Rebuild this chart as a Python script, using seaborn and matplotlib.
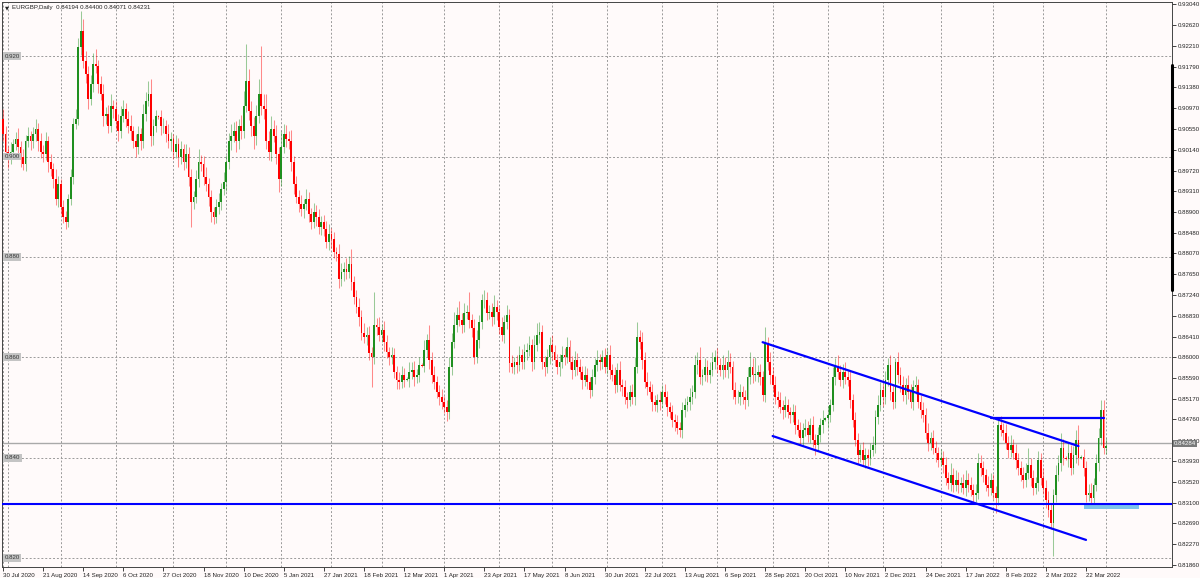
import numpy as np
import pandas as pd
import matplotlib
matplotlib.use('Agg')
import matplotlib.pyplot as plt
import matplotlib.transforms as mtransforms
import seaborn as sns

# EURGBP daily closes, in pips (0.0001)
closes_pips = [
    9045, 9010, 8995, 9010, 9025, 9035, 9020, 9000, 8985, 9030, 9040, 9030, 9045, 9055, 9030, 9010,
    9005, 9030, 8990, 8975, 8955, 8915, 8945, 8900, 8880, 8870, 8915, 8960, 9065, 9075, 9218, 9250,
    9190, 9165, 9115, 9145, 9185, 9180, 9145, 9125, 9080, 9085, 9060, 9100, 9095, 9070, 9050, 9080,
    9095, 9075, 9060, 9050, 9030, 9020, 9045, 9030, 9085, 9110, 9125, 9040, 9060, 9080, 9078, 9060,
    9060, 9045, 9030, 9035, 9010, 9025, 9000, 9015, 8990, 9005, 8960, 8910, 8920, 8955, 8990, 8985,
    8960, 8945, 8920, 8890, 8880, 8900, 8910, 8935, 8950, 8990, 9030, 9040, 9050, 9030, 9060, 9050,
    9100, 9150, 9090, 9060, 9040, 9080, 9125, 9100, 9095, 9030, 9010, 9055, 9040, 9005, 8955, 9020,
    9045, 9035, 9030, 8990, 8945, 8920, 8905, 8895, 8905, 8915, 8885, 8870, 8890, 8880, 8860, 8870,
    8855, 8830, 8845, 8835, 8810, 8805, 8755, 8770, 8775, 8770, 8785, 8750, 8720, 8700, 8680, 8648,
    8640, 8645, 8608, 8600, 8665, 8660, 8645, 8655, 8630, 8610, 8600, 8605, 8570, 8555, 8550, 8565,
    8555, 8557, 8570, 8575, 8560, 8565, 8585, 8583, 8615, 8635, 8595, 8565, 8550, 8530, 8520, 8510,
    8500, 8490, 8580, 8630, 8665, 8685, 8675, 8664, 8688, 8690, 8675, 8659, 8601, 8635, 8670, 8714,
    8715, 8688, 8690, 8680, 8700, 8690, 8660, 8645, 8670, 8685, 8589, 8580, 8590, 8585, 8605, 8590,
    8610, 8615, 8625, 8590, 8625, 8644, 8650, 8590, 8580, 8600, 8625, 8610, 8595, 8580, 8590, 8605,
    8600, 8620, 8590, 8575, 8595, 8580, 8570, 8555, 8565, 8550, 8535, 8560, 8585, 8595, 8590, 8600,
    8580, 8605, 8575, 8565, 8545, 8575, 8545, 8540, 8520, 8515, 8530, 8520, 8580, 8640, 8630, 8595,
    8550, 8540, 8530, 8510, 8505, 8515, 8510, 8530, 8520, 8500, 8490, 8475, 8470, 8460, 8455, 8495,
    8505, 8510, 8520, 8530, 8585, 8595, 8560, 8565, 8580, 8565, 8575, 8590, 8600, 8585, 8575, 8585,
    8575, 8590, 8580, 8535, 8520, 8520, 8530, 8520, 8515, 8560, 8580, 8565, 8565, 8570, 8560, 8525,
    8628, 8590, 8565, 8545, 8520, 8515, 8500, 8495, 8505, 8490, 8485, 8490, 8465, 8455, 8440, 8455,
    8460, 8445, 8465, 8435, 8425, 8445, 8465, 8475, 8478, 8485, 8505, 8560, 8580, 8570, 8555, 8570,
    8560, 8555, 8515, 8475, 8435, 8405, 8415, 8395, 8405, 8400, 8415, 8425, 8480, 8505, 8535, 8520,
    8555, 8585, 8530, 8510, 8590, 8565, 8545, 8525, 8545, 8530, 8510, 8540, 8545, 8510, 8495, 8485,
    8450, 8430, 8440, 8420, 8410, 8395, 8400, 8385, 8360, 8350, 8365, 8345, 8355, 8345, 8350, 8340,
    8355, 8345, 8335, 8325, 8330, 8390, 8380, 8365, 8345, 8340, 8355, 8330, 8320, 8465, 8455, 8450,
    8430, 8415, 8425, 8410, 8395, 8380, 8365, 8355, 8370, 8385, 8360, 8340, 8350, 8395, 8360, 8340,
    8315, 8295, 8270, 8325, 8365, 8390, 8420, 8400, 8398, 8410, 8380, 8405, 8435, 8400, 8402, 8380,
    8325, 8330, 8320, 8345, 8390, 8440, 8495, 8419, 8423,
]
first_open_pips = 9075

# wick lengths above / below the body, in pips
upper_wick = [
    20, 15, 12, 18, 10, 14, 22, 10, 16, 12, 18, 10, 14, 20, 12, 16,
    14, 18, 10, 15, 12, 20, 16, 10, 14, 12, 10, 15, 12, 20, 18, 40,
    25, 20, 15, 18, 22, 30, 12, 16, 20, 14, 18, 25, 12, 15, 14, 20,
    18, 12, 15, 22, 10, 14, 16, 12, 20, 18, 25, 30, 15, 12, 3, 14,
    16, 12, 20, 14, 10, 18, 12, 15, 10, 20, 14, 16, 12, 18, 25, 14,
    16, 20, 12, 14, 10, 15, 18, 12, 20, 14, 16, 25, 18, 20, 14, 22,
    30, 75, 25, 20, 18, 22, 30, 95, 25, 30, 20, 25, 18, 22, 14, 30,
    20, 18, 15, 22, 12, 16, 14, 18, 10, 20, 15, 12, 18, 14, 16, 12,
    14, 16, 20, 12, 15, 10, 20, 18, 14, 22, 16, 30, 12, 15, 18, 14,
    20, 16, 18, 12, 65, 14, 20, 12, 18, 15, 10, 16, 14, 12, 15, 18,
    14, 3, 20, 15, 18, 12, 16, 3, 20, 12, 30, 15, 18, 12, 14, 16,
    12, 14, 20, 18, 25, 16, 28, 14, 20, 15, 40, 12, 18, 20, 15, 12,
    20, 16, 14, 18, 25, 15, 12, 20, 14, 20, 12, 15, 10, 14, 18, 12,
    16, 14, 18, 12, 20, 25, 20, 14, 12, 16, 15, 20, 14, 12, 16, 18,
    14, 20, 15, 12, 18, 14, 16, 12, 18, 14, 10, 16, 14, 20, 12, 15,
    18, 14, 20, 12, 16, 14, 18, 12, 15, 10, 14, 16, 20, 30, 14, 20,
    15, 20, 12, 16, 14, 12, 18, 14, 16, 12, 10, 14, 12, 15, 10, 16,
    14, 12, 18, 15, 20, 16, 25, 12, 18, 14, 16, 20, 15, 18, 14, 20,
    16, 25, 18, 12, 15, 14, 16, 12, 14, 20, 30, 18, 35, 14, 16, 12,
    32, 12, 20, 15, 18, 12, 16, 14, 18, 12, 10, 16, 14, 12, 15, 14,
    16, 12, 14, 18, 12, 16, 14, 20, 3, 18, 12, 20, 18, 25, 14, 16,
    20, 14, 18, 12, 15, 14, 12, 16, 14, 12, 15, 18, 14, 20, 15, 12,
    18, 14, 20, 16, 8, 20, 15, 18, 14, 20, 16, 15, 18, 12, 14, 16,
    14, 18, 12, 16, 14, 12, 18, 14, 16, 12, 25, 14, 20, 16, 12, 18,
    20, 14, 16, 12, 18, 20, 16, 14, 12, 18, 15, 12, 14, 15, 18, 14,
    16, 14, 20, 12, 18, 15, 14, 16, 20, 35, 14, 16, 12, 18, 14, 20,
    16, 18, 14, 12, 20, 15, 30, 18, 3, 20, 16, 18, 20, 30, 3, 16,
    14, 18, 20, 15, 18, 20, 20, 20, 17,
]
lower_wick = [
    15, 12, 18, 10, 14, 12, 16, 20, 12, 14, 10, 16, 12, 14, 18, 12,
    16, 12, 20, 14, 18, 12, 16, 14, 12, 15, 10, 12, 14, 10, 12, 15,
    14, 18, 20, 12, 16, 14, 18, 12, 20, 16, 14, 12, 18, 15, 20, 14,
    12, 16, 14, 18, 12, 20, 14, 16, 12, 14, 10, 18, 16, 12, 3, 18,
    14, 16, 12, 18, 14, 12, 20, 14, 16, 12, 18, 50, 14, 12, 16, 14,
    16, 14, 18, 20, 15, 12, 14, 16, 12, 18, 14, 16, 12, 20, 14, 16,
    14, 12, 18, 20, 25, 16, 14, 18, 20, 14, 16, 18, 12, 20, 25, 14,
    12, 16, 14, 18, 20, 12, 16, 14, 18, 12, 16, 14, 12, 18, 14, 16,
    14, 12, 16, 18, 12, 14, 16, 12, 18, 14, 12, 16, 14, 12, 18, 14,
    12, 16, 14, 60, 14, 16, 12, 14, 18, 12, 16, 14, 12, 18, 14, 12,
    14, 3, 16, 14, 18, 12, 14, 3, 12, 14, 18, 16, 14, 12, 16, 14,
    12, 18, 14, 16, 12, 14, 12, 16, 14, 12, 16, 18, 14, 12, 16, 14,
    16, 14, 12, 18, 14, 16, 14, 12, 16, 14, 18, 12, 14, 16, 12, 14,
    14, 16, 12, 18, 14, 12, 16, 14, 18, 12, 14, 16, 12, 14, 18, 12,
    16, 12, 14, 18, 12, 16, 14, 18, 12, 14, 16, 12, 14, 12, 16, 14,
    12, 14, 18, 12, 16, 14, 12, 18, 14, 16, 12, 14, 16, 12, 14, 18,
    12, 16, 14, 18, 12, 14, 16, 12, 14, 18, 12, 14, 16, 12, 14, 16,
    14, 12, 16, 14, 12, 18, 14, 16, 12, 14, 16, 12, 14, 16, 12, 18,
    14, 16, 12, 18, 14, 12, 16, 14, 18, 12, 14, 16, 12, 14, 16, 12,
    14, 16, 18, 12, 14, 16, 12, 18, 14, 12, 16, 14, 18, 12, 14, 16,
    12, 14, 16, 14, 20, 12, 14, 16, 3, 18, 14, 12, 16, 14, 12, 16,
    14, 12, 16, 14, 12, 18, 14, 12, 16, 16, 14, 12, 16, 14, 12, 18,
    14, 12, 16, 14, 12, 16, 14, 12, 18, 14, 12, 16, 14, 12, 16, 14,
    12, 16, 14, 12, 18, 14, 12, 16, 14, 12, 16, 14, 12, 16, 14, 12,
    16, 14, 12, 18, 14, 12, 16, 14, 12, 16, 14, 12, 30, 14, 12, 14,
    12, 16, 14, 12, 18, 14, 12, 16, 14, 12, 16, 14, 12, 16, 14, 12,
    16, 14, 12, 67, 14, 12, 16, 14, 3, 16, 14, 12, 16, 14, 3, 16,
    14, 12, 16, 14, 12, 16, 14, 12, 12,
]
last_ohlc = [0.84194, 0.84400, 0.84071, 0.84231]

# calendar: broker skips Christmas / New Year, adds Sunday bars around DST changes
holidays = ['2020-12-25', '2021-01-01']
sunday_bars = ['2020-10-25', '2021-03-14', '2021-03-21', '2021-10-31', '2022-03-13', '2022-03-20']

# drawn objects
level_lines = [0.920, 0.900, 0.880, 0.860, 0.840, 0.820]
support_price = 0.8307
bid_price = 0.84284
channel_top = ([303, 429], [0.8630, 0.8423])
channel_bottom = ([307, 432], [0.8443, 0.8236])
resistance = ([394, 439], [0.8479, 0.8479])
zone_bars = [431, 453]
zone_prices = [0.8298, 0.8310]

right_ticks = [0.93040, 0.92620, 0.92210, 0.91790, 0.91380, 0.90970, 0.90550, 0.90140,
               0.89720, 0.89310, 0.88900, 0.88480, 0.88070, 0.87650, 0.87240, 0.86830,
               0.86410, 0.86000, 0.85590, 0.85170, 0.84760, 0.84340, 0.83930, 0.83520,
               0.83100, 0.82690, 0.82270, 0.81860]

# ---------------------------------------------------------------------------
days = pd.bdate_range('2020-07-30', '2022-04-01')
days = days.drop(pd.to_datetime(holidays)).union(pd.to_datetime(sunday_bars))
n = len(closes_pips)
days = days[:n]

close = np.array(closes_pips, dtype=float) / 10000
close[-1] = last_ohlc[3]
open_ = np.r_[first_open_pips / 10000, close[:-1]]
open_[-1] = last_ohlc[0]
high = np.maximum(open_, close) + np.array(upper_wick) / 10000
low = np.minimum(open_, close) - np.array(lower_wick) / 10000
high[-1], low[-1] = last_ohlc[1], last_ohlc[2]
df = pd.DataFrame({'date': days, 'open': open_, 'high': high, 'low': low, 'close': close})
df['bar'] = np.arange(n)
df['bull'] = df['close'] >= df['open']

sns.set_style('white')
plt.rcParams['font.family'] = ['Liberation Sans', 'DejaVu Sans']

bg = '#fffafa'
green = '#1f8f1f'
red = '#ff0000'
grid_c = '#9a9a9a'
txt = '#222222'
fs = 4.4

fig = plt.figure(figsize=(12, 5.78), dpi=100, facecolor=bg)
ax = fig.add_axes([2 / 1200, 11 / 578, 1170 / 1200, 565 / 578])
ax.set_facecolor(bg)
ax.set_xlim(-0.4, 466.3)
ax.set_ylim(0.81820, 0.93080)

# month grid and price levels
month_start = df.index[df['date'].dt.month != df['date'].dt.month.shift()]
for b in month_start:
    ax.axvline(b, color=grid_c, lw=0.7, ls=(0, (2, 2)), zorder=0)
for lv in level_lines:
    ax.axhline(lv, color=grid_c, lw=0.7, ls=(0, (2, 2)), zorder=0)
    ax.text(0.7, lv, f'{lv:.3f}', fontsize=fs, color='#333333', va='center', ha='left',
            bbox=dict(facecolor='#c4c4c4', edgecolor='none', pad=1.0), zorder=6)
ax.axhline(bid_price, color='#a9a9a9', lw=1.0, zorder=1)

# candles
for is_bull, col in [(True, green), (False, red)]:
    d = df[df['bull'] == is_bull]
    ax.vlines(d['bar'], d['low'], d['high'], colors=col, lw=0.75, alpha=0.45, zorder=2)
    body = (d['close'] - d['open']).abs().clip(lower=0.00008)
    ax.bar(d['bar'], body, bottom=d[['open', 'close']].min(axis=1), width=0.72,
           color=col, linewidth=0, zorder=3)

# trend lines and levels
lines = pd.concat([
    pd.DataFrame({'bar': channel_top[0], 'price': channel_top[1], 'name': 'top'}),
    pd.DataFrame({'bar': channel_bottom[0], 'price': channel_bottom[1], 'name': 'bottom'}),
    pd.DataFrame({'bar': resistance[0], 'price': resistance[1], 'name': 'res'}),
])
sns.lineplot(data=lines, x='bar', y='price', units='name', estimator=None,
             color='#0000ff', lw=1.6, ax=ax, zorder=4, legend=False)
ax.axhline(support_price, color='#0000ff', lw=1.5, zorder=4)
ax.fill_between(zone_bars, zone_prices[0], zone_prices[1], color='#7cc3ec', lw=0, zorder=3.5)

# axes styling
for s in ax.spines.values():
    s.set_color('#444444')
    s.set_linewidth(0.7)
ax.yaxis.tick_right()
ax.set_yticks(right_ticks)
ax.set_yticklabels([f'{t:.5f}' for t in right_ticks])
tick_bars = list(range(0, n, 16))
ax.set_xticks(tick_bars)
ax.set_xticklabels([f'{d.day} {d:%b %Y}' for d in df['date'].iloc[tick_bars]], ha='left')
ax.tick_params(axis='both', labelsize=fs, colors=txt, length=3, width=0.6, pad=1.2,
               direction='out')
ax.tick_params(axis='y', right=True, left=False)
ax.tick_params(axis='x', bottom=True)
ax.set_xlabel('')
ax.set_ylabel('')
ax.grid(False)

# bid price marker on the scale
trans = mtransforms.blended_transform_factory(ax.transAxes, ax.transData)
ax.text(1.0015, bid_price, f'{bid_price:.5f}', transform=trans, fontsize=fs, color='white',
        va='center', ha='left', bbox=dict(facecolor='#7a7a7a', edgecolor='none', pad=0.9),
        zorder=7, clip_on=False)
ax.plot([1, 1], [1 - 63 / 565, 1 - 288 / 565], transform=ax.transAxes, color='black',
        lw=2.2, clip_on=False, zorder=8)

# header
fig.text(5 / 1200, 1 - 8 / 578, '\u25bc', fontsize=3.8, color=txt, va='center',
         family=['DejaVu Sans'])
fig.text(12 / 1200, 1 - 8 / 578, 'EURGBP,Daily  0.84194 0.84400 0.84071 0.84231',
         fontsize=fs, color=txt, va='center')

fig.savefig('out.png', dpi=100, facecolor=bg)
